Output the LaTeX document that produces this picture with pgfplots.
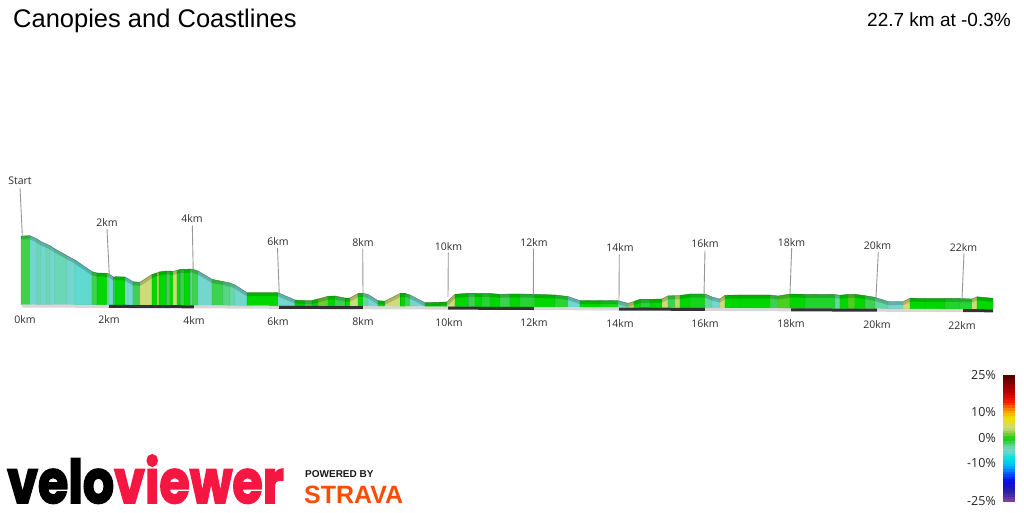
\documentclass[border=0pt]{standalone}
\usepackage{pgfplots}
\pgfplotsset{compat=1.18}
\usepackage{pgfplotstable}
\usepackage{fontspec}
\setmainfont{Open Sans}
\newfontfamily\arial{Liberation Sans}
\newfontfamily\pop{Poppins}[BoldFeatures={FakeBold=3}]
\definecolor{vvred}{RGB}{245,22,65}
\definecolor{strava}{RGB}{252,76,2}
\definecolor{lbl}{RGB}{45,45,45}
\definecolor{lead}{RGB}{150,150,150}
\definecolor{bandlight}{RGB}{215,215,215}
\definecolor{banddark}{RGB}{50,50,50}
% profile vertices in picture pixels: 0-100 top edge, 101-201 base edge
\pgfplotstableread{
x y
21 236
30 235.7
37 239
41 241.7
46 244
50 245.7
55 249
67 255.7
75 260
92 271.7
97 273
107 273.3
109 274
113 276.7
115 276.7
125 277
133 281.7
140 282.3
152 274.5
157 273
159 272
166 271
170 271
173 271.5
177 270.3
180 269.5
184 269.5
190 269
192 269
198 271
212 279.3
223 281.5
230 283
235 285
247 292.7
278 292.7
295 300
305 300.7
312 300.5
318 299
328 296.3
335 296
345 298
350 298
358 293.5
363 293.3
368 294.5
378 300.7
385 301.2
400 293.5
405 293.5
410 295
425 302.7
447 302
455 294.3
468 293.3
475 293.3
482 293.3
490 293.5
500 294.3
510 294
520 294
535 294.3
555 295
568 296.5
580 300.7
600 300.5
618 300.7
628 303.3
634 301.5
640 299.3
650 299.3
662 299
668 295.8
675 295.7
680 295.5
690 294
705 294
712 297
720 299
725 295.3
740 295
770 295
778 296
790 294
805 294.3
835 294.5
840 295.2
848 294.5
855 294.3
865 295.7
875 297.3
888 301.5
903 301.7
910 298.2
925 298.3
945 298.3
960 298.5
972 299
977 296.8
993 298.3
21 304.5
30 304.5
37 304.6
41 304.6
46 304.6
50 304.6
55 304.7
67 304.7
75 304.8
92 304.8
97 304.9
107 304.9
109 304.9
113 305.0
115 305.0
125 305.0
133 305.1
140 305.1
152 305.1
157 305.2
159 305.2
166 305.2
170 305.2
173 305.2
177 305.3
180 305.3
184 305.3
190 305.3
192 305.3
198 305.4
212 305.4
223 305.5
230 305.5
235 305.6
247 305.6
278 305.8
295 305.8
305 305.9
312 305.9
318 306.0
328 306.0
335 306.0
345 306.1
350 306.1
358 306.2
363 306.2
368 306.2
378 306.3
385 306.3
400 306.4
405 306.4
410 306.4
425 306.5
447 306.6
455 306.6
468 306.7
475 306.7
482 306.8
490 306.8
500 306.9
510 306.9
520 307.0
535 307.0
555 307.1
568 307.2
580 307.3
600 307.4
618 307.4
628 307.5
634 307.5
640 307.6
650 307.6
662 307.7
668 307.7
675 307.7
680 307.8
690 307.8
705 307.9
712 307.9
720 308.0
725 308.0
740 308.1
770 308.2
778 308.2
790 308.3
805 308.4
835 308.5
840 308.5
848 308.6
855 308.6
865 308.7
875 308.7
888 308.8
903 308.9
910 308.9
925 309.0
945 309.1
960 309.1
972 309.2
977 309.2
993 309.3
}\verts
\tikzset{lab/.style={font=\fontsize{10.5}{12}\selectfont, text=lbl, inner sep=0pt, anchor=center},
  cbl/.style={font=\fontsize{12.5}{14}\selectfont, text=black!85, inner sep=0pt, anchor=east}}
\pgfplotsset{leader/.style={draw=lead, line width=0.9pt, forget plot},
  bl/.style={draw=bandlight, line width=3pt, forget plot},
  bd/.style={draw=banddark, line width=3pt, forget plot}}
\begin{document}
\begin{tikzpicture}
\begin{axis}[at={(0pt,0pt)}, anchor=south west,
  width=1024pt, height=512pt, scale only axis,
  xmin=0, xmax=1024, ymin=0, ymax=512, y dir=reverse,
  hide axis, clip=false,
  colormap={vv}{rgb255(0cm)=(130,70,150); rgb255(4cm)=(40,30,170); rgb255(8cm)=(10,10,220);
    rgb255(11cm)=(0,80,255); rgb255(14cm)=(0,180,255); rgb255(17cm)=(0,225,225);
    rgb255(20cm)=(115,215,205); rgb255(22cm)=(100,215,160); rgb255(23.5cm)=(60,210,80);
    rgb255(25cm)=(0,215,0); rgb255(26.5cm)=(110,205,50); rgb255(29cm)=(205,220,120);
    rgb255(31cm)=(225,220,60); rgb255(33cm)=(240,225,0); rgb255(36cm)=(255,150,0);
    rgb255(39cm)=(255,30,0); rgb255(43cm)=(190,0,0); rgb255(50cm)=(80,0,0)},
  point meta min=-25, point meta max=25,
]
% front faces, coloured by gradient
\addplot[patch, patch type=rectangle, shader=faceted, faceted color=mapped color!88!black,
  line width=0.3pt, table/row sep=\\,
  patch table with point meta={
0 1 102 101 -1.5\\
1 2 103 102 -5\\
2 3 104 103 -4\\
3 4 105 104 -5\\
4 5 106 105 -4\\
5 6 107 106 -5\\
6 7 108 107 -4\\
7 8 109 108 -5\\
8 9 110 109 -5.5\\
9 10 111 110 -1.5\\
10 11 112 111 0\\
11 12 113 112 -3\\
12 13 114 113 -5\\
13 14 115 114 -1.5\\
14 15 116 115 0\\
15 16 117 116 -5\\
16 17 118 117 -1.5\\
17 18 119 118 4\\
18 19 120 119 0\\
19 20 121 120 3\\
20 21 122 121 0\\
21 22 123 122 -1.5\\
22 23 124 123 0\\
23 24 125 124 4\\
24 25 126 125 0\\
25 26 127 126 -1.5\\
26 27 128 127 0\\
27 28 129 128 -3\\
28 29 130 129 -1.5\\
29 30 131 130 -5\\
30 31 132 131 -1.5\\
31 32 133 132 -2.5\\
32 33 134 133 -3.5\\
33 34 135 134 -5\\
34 35 136 135 0\\
35 36 137 136 -5\\
36 37 138 137 0\\
37 38 139 138 -1.5\\
38 39 140 139 0\\
39 40 141 140 1.5\\
40 41 142 141 0\\
41 42 143 142 -1.5\\
42 43 144 143 0\\
43 44 145 144 4\\
44 45 146 145 0\\
45 46 147 146 -3\\
46 47 148 147 -5\\
47 48 149 148 0\\
48 49 150 149 4\\
49 50 151 150 0\\
50 51 152 151 -1.5\\
51 52 153 152 -5\\
52 53 154 153 0\\
53 54 155 154 4\\
54 55 156 155 0\\
55 56 157 156 -1.5\\
56 57 158 157 0\\
57 58 159 158 -1\\
58 59 160 159 0\\
59 60 161 160 -1.5\\
60 61 162 161 0\\
61 62 163 162 -1\\
62 63 164 163 0\\
63 64 165 164 -1\\
64 65 166 165 -5\\
65 66 167 166 0\\
66 67 168 167 -0.6\\
67 68 169 168 -4\\
68 69 170 169 3.5\\
69 70 171 170 0\\
70 71 172 171 -1\\
71 72 173 172 0\\
72 73 174 173 4\\
73 74 175 174 -1.5\\
74 75 176 175 3.5\\
75 76 177 176 0\\
76 77 178 177 -0.5\\
77 78 179 178 -3\\
78 79 180 179 -5\\
79 80 181 180 4\\
80 81 182 181 0\\
81 82 183 182 0\\
82 83 184 183 -1.5\\
83 84 185 184 1\\
84 85 186 185 0\\
85 86 187 186 -0.8\\
86 87 188 187 -3\\
87 88 189 188 0\\
88 89 190 189 1\\
89 90 191 190 0\\
90 91 192 191 -1.5\\
91 92 193 192 -3\\
92 93 194 193 -5\\
93 94 195 194 4\\
94 95 196 195 0\\
95 96 197 196 0\\
96 97 198 197 -0.8\\
97 98 199 198 -1\\
98 99 200 199 4\\
99 100 201 200 0\\
}] table[x=x, y=y] {\verts};
% top face (darker band) and top edge
\addplot[draw=black, opacity=0.17, line width=3.5pt, line join=round, forget plot,
  restrict expr to domain={\coordindex}{0:100}] table[x=x, y expr=\thisrow{y}+1.75] {\verts};
\addplot[draw=black!70, opacity=0.35, line width=0.6pt, line join=round, forget plot,
  restrict expr to domain={\coordindex}{0:100}] table[x=x, y=y] {\verts};
% kilometre band under the profile
\addplot[bl] coordinates {(22,306.0) (109,306.4)};
\addplot[bd] coordinates {(109,306.4) (194,306.8)};
\addplot[bl] coordinates {(194,306.8) (279,307.3)};
\addplot[bd] coordinates {(279,307.3) (363,307.7)};
\addplot[bl] coordinates {(363,307.7) (448,308.1)};
\addplot[bd] coordinates {(448,308.1) (534,308.5)};
\addplot[bl] coordinates {(534,308.5) (619,309.0)};
\addplot[bd] coordinates {(619,309.0) (705,309.4)};
\addplot[bl] coordinates {(705,309.4) (791,309.8)};
\addplot[bd] coordinates {(791,309.8) (877,310.2)};
\addplot[bl] coordinates {(877,310.2) (963,310.6)};
\addplot[bd] coordinates {(963,310.6) (993,310.8)};
% leader lines
\addplot[leader] coordinates {(20,188) (22.3,235)};
\addplot[leader] coordinates {(107,229) (109.3,274.5)};
\addplot[leader] coordinates {(192.3,225.5) (193.2,269.5)};
\addplot[leader] coordinates {(277.5,248) (279.2,293)};
\addplot[leader] coordinates {(362.7,248.5) (363,293.5)};
\addplot[leader] coordinates {(448.3,252.5) (448,297)};
\addplot[leader] coordinates {(533.5,248.5) (533.3,293.8)};
\addplot[leader] coordinates {(619.3,254.5) (619,300.5)};
\addplot[leader] coordinates {(705,250.5) (704,294.5)};
\addplot[leader] coordinates {(791.7,248) (790,293.5)};
\addplot[leader] coordinates {(878.3,252) (876,297)};
\addplot[leader] coordinates {(964,253.3) (962,298.3)};
% gradient scale (colour bar), one short segment per percent
\addplot[mesh, shader=flat, point meta=explicit, line width=12pt, forget plot] coordinates {
(1009,502) [-25] (1009,499.46) [-24] (1009,496.92) [-23] (1009,494.38) [-22]
(1009,491.84) [-21] (1009,489.3) [-20] (1009,486.76) [-19] (1009,484.22) [-18]
(1009,481.68) [-17] (1009,479.14) [-16] (1009,476.6) [-15] (1009,474.06) [-14]
(1009,471.52) [-13] (1009,468.98) [-12] (1009,466.44) [-11] (1009,463.9) [-10]
(1009,461.36) [-9] (1009,458.82) [-8] (1009,456.28) [-7] (1009,453.74) [-6]
(1009,451.2) [-5] (1009,448.66) [-4] (1009,446.12) [-3] (1009,443.58) [-2]
(1009,441.04) [-1] (1009,438.5) [0] (1009,435.96) [1] (1009,433.42) [2]
(1009,430.88) [3] (1009,428.34) [4] (1009,425.8) [5] (1009,423.26) [6]
(1009,420.72) [7] (1009,418.18) [8] (1009,415.64) [9] (1009,413.1) [10]
(1009,410.56) [11] (1009,408.02) [12] (1009,405.48) [13] (1009,402.94) [14]
(1009,400.4) [15] (1009,397.86) [16] (1009,395.32) [17] (1009,392.78) [18]
(1009,390.24) [19] (1009,387.7) [20] (1009,385.16) [21] (1009,382.62) [22]
(1009,380.08) [23] (1009,377.54) [24] (1009,375) [25]};
% invisible frame of the picture
\addplot[draw=none, forget plot] coordinates {(0,0) (1024,512)};
% colour bar labels
\node[cbl] at (axis cs:996,375.5) {25\%};
\node[cbl] at (axis cs:996,412) {10\%};
\node[cbl] at (axis cs:996,438) {0\%};
\node[cbl] at (axis cs:996,463.5) {-10\%};
\node[cbl] at (axis cs:996,501) {-25\%};
% top labels
\node[lab] at (axis cs:20,181) {Start};
\node[lab] at (axis cs:107,223) {2km};
\node[lab] at (axis cs:192,219) {4km};
\node[lab] at (axis cs:278,242) {6km};
\node[lab] at (axis cs:363,243) {8km};
\node[lab] at (axis cs:448.5,247) {10km};
\node[lab] at (axis cs:534,242.5) {12km};
\node[lab] at (axis cs:620,248) {14km};
\node[lab] at (axis cs:705,244) {16km};
\node[lab] at (axis cs:791.5,242.5) {18km};
\node[lab] at (axis cs:877.5,246) {20km};
\node[lab] at (axis cs:963.5,247.5) {22km};
% bottom labels
\node[lab] at (axis cs:25,319.5) {0km};
\node[lab] at (axis cs:109,320) {2km};
\node[lab] at (axis cs:194,320.5) {4km};
\node[lab] at (axis cs:278,321.5) {6km};
\node[lab] at (axis cs:363,322) {8km};
\node[lab] at (axis cs:449,322.5) {10km};
\node[lab] at (axis cs:534,322.5) {12km};
\node[lab] at (axis cs:620,323.5) {14km};
\node[lab] at (axis cs:705,324) {16km};
\node[lab] at (axis cs:791,324) {18km};
\node[lab] at (axis cs:877,324.5) {20km};
\node[lab] at (axis cs:962,325.5) {22km};
% titles
\node[anchor=base west, inner sep=0pt, font=\arial\fontsize{25.5}{28}\selectfont] at (axis cs:13,27) {Canopies and Coastlines};
\node[anchor=base east, inner sep=0pt, font=\arial\fontsize{19}{22}\selectfont] at (axis cs:1011,26) {22.7 km at -0.3\%};
% logos
\node[anchor=base west, inner sep=0pt] at (axis cs:7,503) {\scalebox{0.82}[1]{\pop\bfseries\fontsize{60}{60}\selectfont velo\textcolor{vvred}{viewer}}};
\node[anchor=base west, inner sep=0pt, font=\arial\bfseries\fontsize{10}{12}\selectfont, text=black!90] at (axis cs:305,477.5) {POWERED BY};
\node[anchor=base west, inner sep=0pt, font=\arial\bfseries\fontsize{25}{28}\selectfont, text=strava] at (axis cs:304,503) {STRAVA};
\end{axis}
\pgfresetboundingbox
\path (0pt,0pt) rectangle (1024pt,512pt);
\end{tikzpicture}
\end{document}
